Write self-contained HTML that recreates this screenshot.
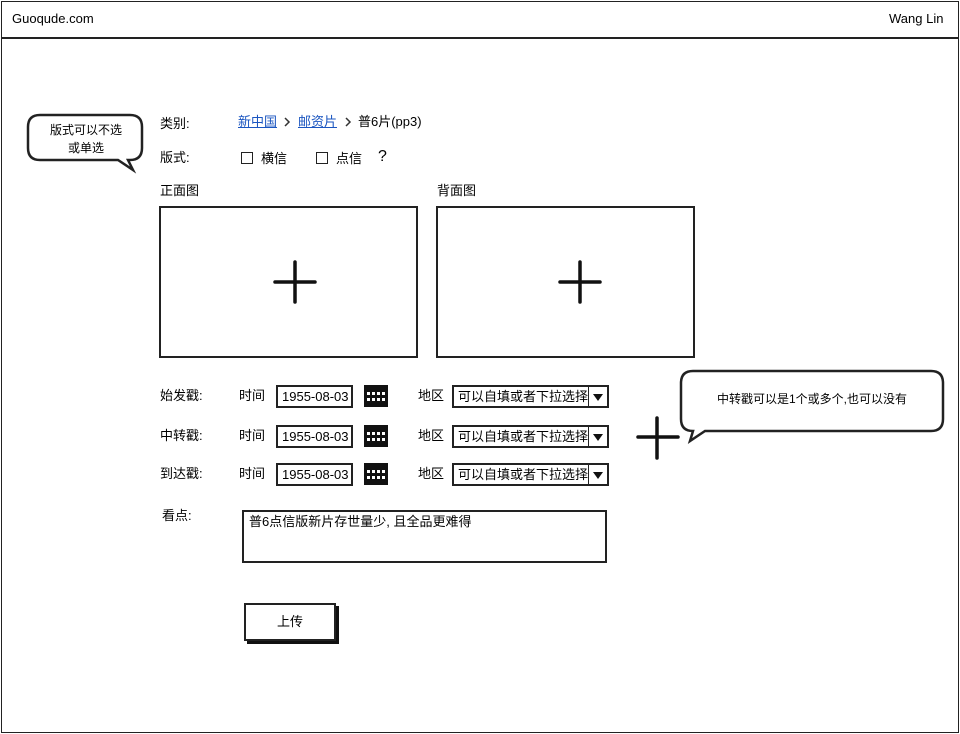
<!DOCTYPE html>
<html><head><meta charset="utf-8"><style>
body{margin:0;width:960px;height:734px;background:#fff;position:relative;overflow:hidden;font-family:"Liberation Sans","Noto Sans CJK SC",sans-serif;font-size:13px;color:#000}
.a{position:absolute}
.t{position:absolute;white-space:nowrap;line-height:16px}
.box{position:absolute;border:2px solid #222;box-sizing:border-box;background:#fff}
a{color:#1a55c0;text-decoration:underline}
.cb{display:inline-block;width:10px;height:10px;border:1.5px solid #222;vertical-align:-1px;margin-right:8px}
.date{position:absolute;border:2px solid #222;box-sizing:border-box;width:77px;height:23px;line-height:19px;padding-left:4px;font-size:13px}
.dd{position:absolute;border:2px solid #222;box-sizing:border-box;width:157px;height:23px;line-height:19px;padding-left:4px;font-size:13px}
.dd b{position:absolute;right:0;top:0;width:18px;height:19px;border-left:1.5px solid #222}
.dd b:after{content:"";position:absolute;left:4px;top:7px;border-left:5px solid transparent;border-right:5px solid transparent;border-top:7px solid #111}
.cal{position:absolute;width:24px;height:22px;background:#111}
.cal i{position:absolute;width:3px;height:3px;background:#fff}
</style></head><body>
<div class="box" style="left:1px;top:1px;width:958px;height:732px;border-width:1.5px"></div>
<div class="a" style="left:1px;top:37px;width:958px;height:2px;background:#222"></div>
<div class="t" style="left:12px;top:11px">Guoqude.com</div>
<div class="t" style="left:889px;top:11px">Wang Lin</div>

<svg class="a" style="left:0;top:0" width="960" height="734">
<path d="M40 115 H130 Q142 115 142 127 V148 Q142 160 130 160 H128 L133 170 L118 160 H40 Q28 160 28 148 V127 Q28 115 40 115 Z" fill="#fff" stroke="#222" stroke-width="2.5"/>
<path d="M693 371 H931 Q943 371 943 383 V419 Q943 431 931 431 H705 L690 441 L693 431 Q681 431 681 419 V383 Q681 371 693 371 Z" fill="#fff" stroke="#222" stroke-width="2.5"/>
<g stroke="#111" stroke-width="3.5" stroke-linecap="round">
<path d="M295 262 V302 M275 282 H315"/>
<path d="M580 262 V302 M560 282 H600"/>
<path d="M657 418 V458 M638 437 H678"/>
</g>
<path d="M285 118 l4 4 l-4 4 M346 118 l4 4 l-4 4" stroke="#333" stroke-width="1.5" fill="none"/>
</svg>
<div class="t" style="left:30px;top:121px;width:112px;text-align:center;line-height:18px;font-size:12px">版式可以不选<br>或单选</div>
<div class="t" style="left:681px;top:391px;width:262px;text-align:center;font-size:12px">中转戳可以是1个或多个,也可以没有</div>

<div class="t" style="left:160px;top:116px">类别:</div>
<div class="t" style="left:238px;top:114px"><a>新中国</a></div>
<div class="t" style="left:298px;top:114px"><a>邮资片</a></div>
<div class="t" style="left:358px;top:114px">普6片(pp3)</div>
<div class="t" style="left:160px;top:150px">版式:</div>
<div class="t" style="left:241px;top:151px"><span class="cb"></span>横信</div>
<div class="t" style="left:316px;top:151px"><span class="cb"></span>点信</div>
<div class="t" style="left:378px;top:149px;font-size:16px">?</div>
<div class="t" style="left:160px;top:183px">正面图</div>
<div class="t" style="left:437px;top:183px">背面图</div>
<div class="box" style="left:159px;top:206px;width:259px;height:152px"></div>
<div class="box" style="left:436px;top:206px;width:259px;height:152px"></div>
<svg class="a" style="left:0;top:0" width="960" height="734">
<g stroke="#111" stroke-width="3.5" stroke-linecap="round">
<path d="M295 262 V302 M275 282 H315"/>
<path d="M580 262 V302 M560 282 H600"/>
</g></svg>

<div class="t" style="left:160px;top:388px">始发戳:</div>
<div class="t" style="left:160px;top:428px">中转戳:</div>
<div class="t" style="left:160px;top:466px">到达戳:</div>
<div class="t" style="left:239px;top:388px">时间</div>
<div class="t" style="left:239px;top:428px">时间</div>
<div class="t" style="left:239px;top:466px">时间</div>
<div class="date" style="left:276px;top:385px">1955-08-03</div>
<div class="date" style="left:276px;top:425px">1955-08-03</div>
<div class="date" style="left:276px;top:463px">1955-08-03</div>
<div class="cal" style="left:364px;top:385px"><i style="left:3px;top:7px"></i><i style="left:8px;top:7px"></i><i style="left:13px;top:7px"></i><i style="left:18px;top:7px"></i><i style="left:3px;top:13px"></i><i style="left:8px;top:13px"></i><i style="left:13px;top:13px"></i><i style="left:18px;top:13px"></i></div>
<div class="cal" style="left:364px;top:425px"><i style="left:3px;top:7px"></i><i style="left:8px;top:7px"></i><i style="left:13px;top:7px"></i><i style="left:18px;top:7px"></i><i style="left:3px;top:13px"></i><i style="left:8px;top:13px"></i><i style="left:13px;top:13px"></i><i style="left:18px;top:13px"></i></div>
<div class="cal" style="left:364px;top:463px"><i style="left:3px;top:7px"></i><i style="left:8px;top:7px"></i><i style="left:13px;top:7px"></i><i style="left:18px;top:7px"></i><i style="left:3px;top:13px"></i><i style="left:8px;top:13px"></i><i style="left:13px;top:13px"></i><i style="left:18px;top:13px"></i></div>
<div class="t" style="left:418px;top:388px">地区</div>
<div class="t" style="left:418px;top:428px">地区</div>
<div class="t" style="left:418px;top:466px">地区</div>
<div class="dd" style="left:452px;top:385px">可以自填或者下拉选择<b></b></div>
<div class="dd" style="left:452px;top:425px">可以自填或者下拉选择<b></b></div>
<div class="dd" style="left:452px;top:463px">可以自填或者下拉选择<b></b></div>

<div class="t" style="left:162px;top:508px">看点:</div>
<div class="box" style="left:242px;top:510px;width:365px;height:53px;padding:2px 5px;line-height:16px">普6点信版新片存世量少, 且全品更难得</div>
<div class="box" style="left:244px;top:603px;width:92px;height:38px;box-shadow:3px 3px 0 #111;text-align:center;line-height:34px">上传</div>
</body></html>
